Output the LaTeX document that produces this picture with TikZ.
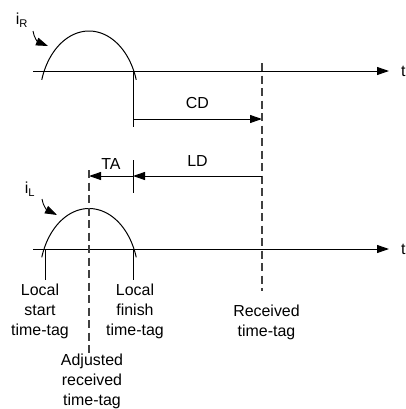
\documentclass[tikz,border=0pt]{standalone}
\usepackage{fontspec}
\setmainfont{Liberation Sans}
\usetikzlibrary{arrows.meta,positioning}
\definecolor{DashGray}{HTML}{404040}
\tikzset{
  % Lines
  ax/.style={-{Triangle[length=12bp,width=8bp]},line width=1bp},
  ln/.style={line width=1bp},
  arr/.style={-{Triangle[length=12bp,width=8bp]},line width=1bp},
  cur/.style={-{Triangle[length=12bp,width=8bp]},line width=0.9bp},
  dsh/.style={draw=DashGray,line width=1.1bp,dash pattern=on 8bp off 4.5bp},
  wave/.style={line width=1bp,line join=round},
  % Label styles
  TX/.style={font=\fontsize{16}{20}\selectfont,inner sep=0pt},
  LB/.style={TX,align=center}
}

\begin{document}
\begin{tikzpicture}[x=1bp,y=-1bp]
  \useasboundingbox (0,0) rectangle (406,409);

  % received current
  \coordinate (r0) at (33,71);
  \coordinate (r1) at (389,71);
  \node[TX,anchor=west] (tR) at (401,71) {t};
  \draw[ax] (r0) -- (r1);
  \draw[wave] plot[domain=163:17,samples=50] ({89+49.4*cos(\x)},{100-69*sin(\x)});
  \node[TX] (iR) at (22,20) {i\textsubscript{R}};
  \coordinate (iRa) at (33,31);
  \coordinate (iRb) at (48,46);
  \draw[cur] (iRa) .. controls (34,38) and (38,42) .. (iRb);

  % local current
  \coordinate (l0) at (33,249);
  \coordinate (l1) at (389,249);
  \node[TX,anchor=west] (tL) at (401,249) {t};
  \draw[ax] (l0) -- (l1);
  \draw[wave] plot[domain=163:17,samples=50] ({89+49.4*cos(\x)},{277.5-69*sin(\x)});
  \node[TX] (iL) at (30,189) {i\textsubscript{L}};
  \coordinate (iLa) at (42,199);
  \coordinate (iLb) at (57,215);
  \draw[cur] (iLa) .. controls (43,206) and (47,210) .. (iLb);

  % delays
  \coordinate (rF) at (133,71);
  \coordinate (rFb) at (133,127);
  \draw[ln] (rF) -- (rFb);
  \coordinate (cdS) at (133,119);
  \coordinate (cdE) at (262,119);
  \draw[arr] (cdS) -- node[TX,above=10bp]{CD} (cdE);

  \coordinate (rxT) at (262,63);
  \coordinate (rxB) at (262,291);
  \draw[dsh] (rxT) -- (rxB);

  \coordinate (ldS) at (262,176);
  \coordinate (ldE) at (133,176);
  \coordinate (tkT) at (133,160);
  \coordinate (tkB) at (133,193);
  \draw[ln] (tkT) -- (tkB);
  \draw[arr] (ldS) -- node[TX,above=9bp]{LD} (ldE);
  \coordinate (taE) at (89,176);
  \draw[arr] (ldE) -- node[TX,above=6.5bp]{TA} (taE);

  \coordinate (adT) at (89,170);
  \coordinate (adB) at (89,353);
  \draw[dsh] (adT) -- (adB);

  % time-tags
  \coordinate (lsT) at (45,249);
  \coordinate (lsB) at (45,280);
  \coordinate (lfT) at (133,249);
  \coordinate (lfB) at (133,280);
  \draw[ln] (lsT) -- (lsB);
  \draw[ln] (lfT) -- (lfB);

  \node[LB] (ls) at (40,311)    {Local\\start\\time-tag};
  \node[LB] (lf) at (135,311)   {Local\\finish\\time-tag};
  \node[LB] (rx) at (266.5,322) {Received\\time-tag};
  \node[LB] (ad) at (92,381.5)  {Adjusted\\received\\time-tag};
\end{tikzpicture}
\end{document}
